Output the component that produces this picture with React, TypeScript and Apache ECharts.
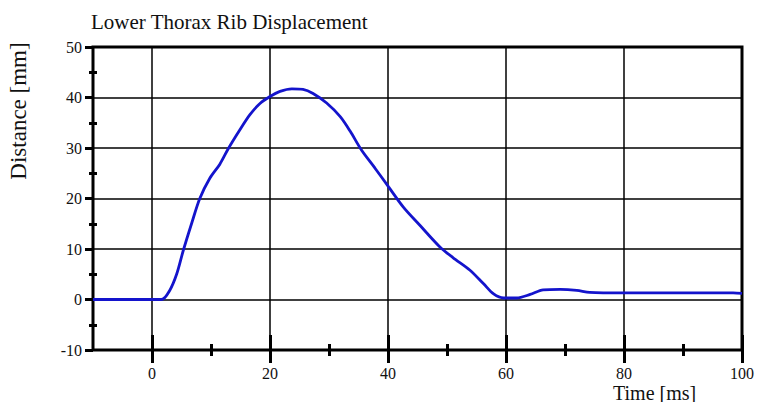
import React, { useEffect, useRef } from "react";
import * as echarts from "echarts";

const titleText = "Lower Thorax Rib Displacement";
const xName = "Time [ms]";
const yName = "Distance [mm]";

const times = [
  -10, 1.6, 3.0, 4.2, 5.3, 6.7, 8.1, 9.8, 11.5, 12.9, 14.9, 16.6, 18.3, 20.0, 21.7, 23.7, 25.6,
  27.3, 29.6, 31.9, 33.6, 35.5, 37.8, 40.1, 42.6, 45.4, 48.8, 51.0, 53.9, 56.2, 57.9, 59.6, 61.8,
  64.1, 66.3, 69.2, 72.0, 74.2, 79.9, 90.0, 98.5, 100,
];
const distances = [
  0, 0, 1.8, 5.1, 9.7, 15.0, 20.0, 24.0, 26.8, 29.8, 33.6, 36.6, 38.8, 40.2, 41.2, 41.7, 41.6,
  40.8, 38.9, 36.2, 33.3, 29.6, 26.0, 22.3, 18.3, 14.7, 10.4, 8.3, 5.8, 3.1, 1.1, 0.3, 0.3,
  1.0, 1.9, 2.0, 1.8, 1.4, 1.3, 1.3, 1.3, 1.2,
];

const xMajorTicks = [0, 20, 40, 60, 80, 100];
const xMinorTicks = [10, 30, 50, 70, 90];
const yMinorTicks = [-5, 5, 15, 25, 35, 45];

const FONT = "'Liberation Serif', 'Times New Roman', serif";

export default function App() {
  const ref = useRef<HTMLDivElement>(null);
  useEffect(() => {
    if (!ref.current) return;
    const chart = echarts.init(ref.current, undefined, { renderer: "svg" });
    const baseX = {
      type: "value" as const,
      min: -10,
      max: 100,
      position: "bottom" as const,
      gridIndex: 0,
      axisLine: { show: false, onZero: false },
      splitLine: { show: false },
      axisLabel: { show: false },
    };
    const baseY = {
      type: "value" as const,
      min: -10,
      max: 50,
      position: "left" as const,
      gridIndex: 0,
      axisLine: { show: false, onZero: false },
      splitLine: { show: false },
      axisLabel: { show: false },
    };
    chart.setOption({
      animation: false,
      backgroundColor: "#ffffff",
      title: {
        text: titleText,
        left: 86,
        top: 6,
        textStyle: { fontFamily: FONT, fontSize: 21, fontWeight: "normal", color: "#111" },
      },
      grid: {
        left: 93,
        right: 15,
        top: 47,
        bottom: 52,
        show: true,
        borderColor: "#000",
        borderWidth: 3,
        backgroundColor: "transparent",
      },
      xAxis: [
        {
          ...baseX,
          axisTick: { show: true, inside: true, length: 15, customValues: xMajorTicks, lineStyle: { color: "#000", width: 3 } },
          axisLabel: {
            show: true,
            customValues: xMajorTicks,
            margin: 16,
            lineHeight: 14,
            fontFamily: FONT,
            fontSize: 16,
            color: "#111",
          },
          splitLine: { show: true, lineStyle: { color: "#000", width: 1.5 } },
        },
        {
          ...baseX,
          axisTick: { show: true, inside: false, length: 13, customValues: xMajorTicks, lineStyle: { color: "#000", width: 3 } },
        },
        {
          ...baseX,
          axisTick: { show: true, inside: true, length: 6, customValues: xMinorTicks, lineStyle: { color: "#000", width: 3 } },
        },
        {
          ...baseX,
          axisTick: { show: true, inside: false, length: 6, customValues: xMinorTicks, lineStyle: { color: "#000", width: 3 } },
        },
      ],
      yAxis: [
        {
          ...baseY,
          interval: 10,
          axisTick: { show: true, inside: false, length: 8, lineStyle: { color: "#000", width: 3 } },
          axisLabel: { show: true, margin: 11, fontFamily: FONT, fontSize: 16, color: "#111" },
          splitLine: { show: true, lineStyle: { color: "#000", width: 1.5 } },
        },
        {
          ...baseY,
          axisTick: { show: true, inside: false, length: 4, customValues: yMinorTicks, lineStyle: { color: "#000", width: 3 } },
        },
        {
          ...baseY,
          axisTick: { show: true, inside: true, length: 4, customValues: yMinorTicks, lineStyle: { color: "#000", width: 3 } },
        },
      ],
      graphic: [
        {
          type: "text",
          x: 18,
          y: 111,
          rotation: Math.PI / 2,
          style: {
            text: yName,
            fontFamily: FONT,
            fontSize: 23,
            fill: "#111",
            textAlign: "center",
            textVerticalAlign: "middle",
          },
        },
        {
          type: "text",
          x: 613,
          y: 384,
          style: {
            text: xName,
            fontFamily: FONT,
            fontSize: 20,
            lineHeight: 17,
            fill: "#111",
            textAlign: "left",
            textVerticalAlign: "top",
          },
        },
      ],
      series: [
        {
          type: "line",
          xAxisIndex: 0,
          yAxisIndex: 0,
          data: times.map((t, i) => [t, distances[i]]),
          showSymbol: false,
          smooth: 0.3,
          lineStyle: { color: "#1414cc", width: 2.8 },
          z: 5,
        },
      ],
    });
    return () => chart.dispose();
  }, []);
  return <div ref={ref} style={{ position: "absolute", left: 0, top: 0, width: 757, height: 402 }} />;
}
